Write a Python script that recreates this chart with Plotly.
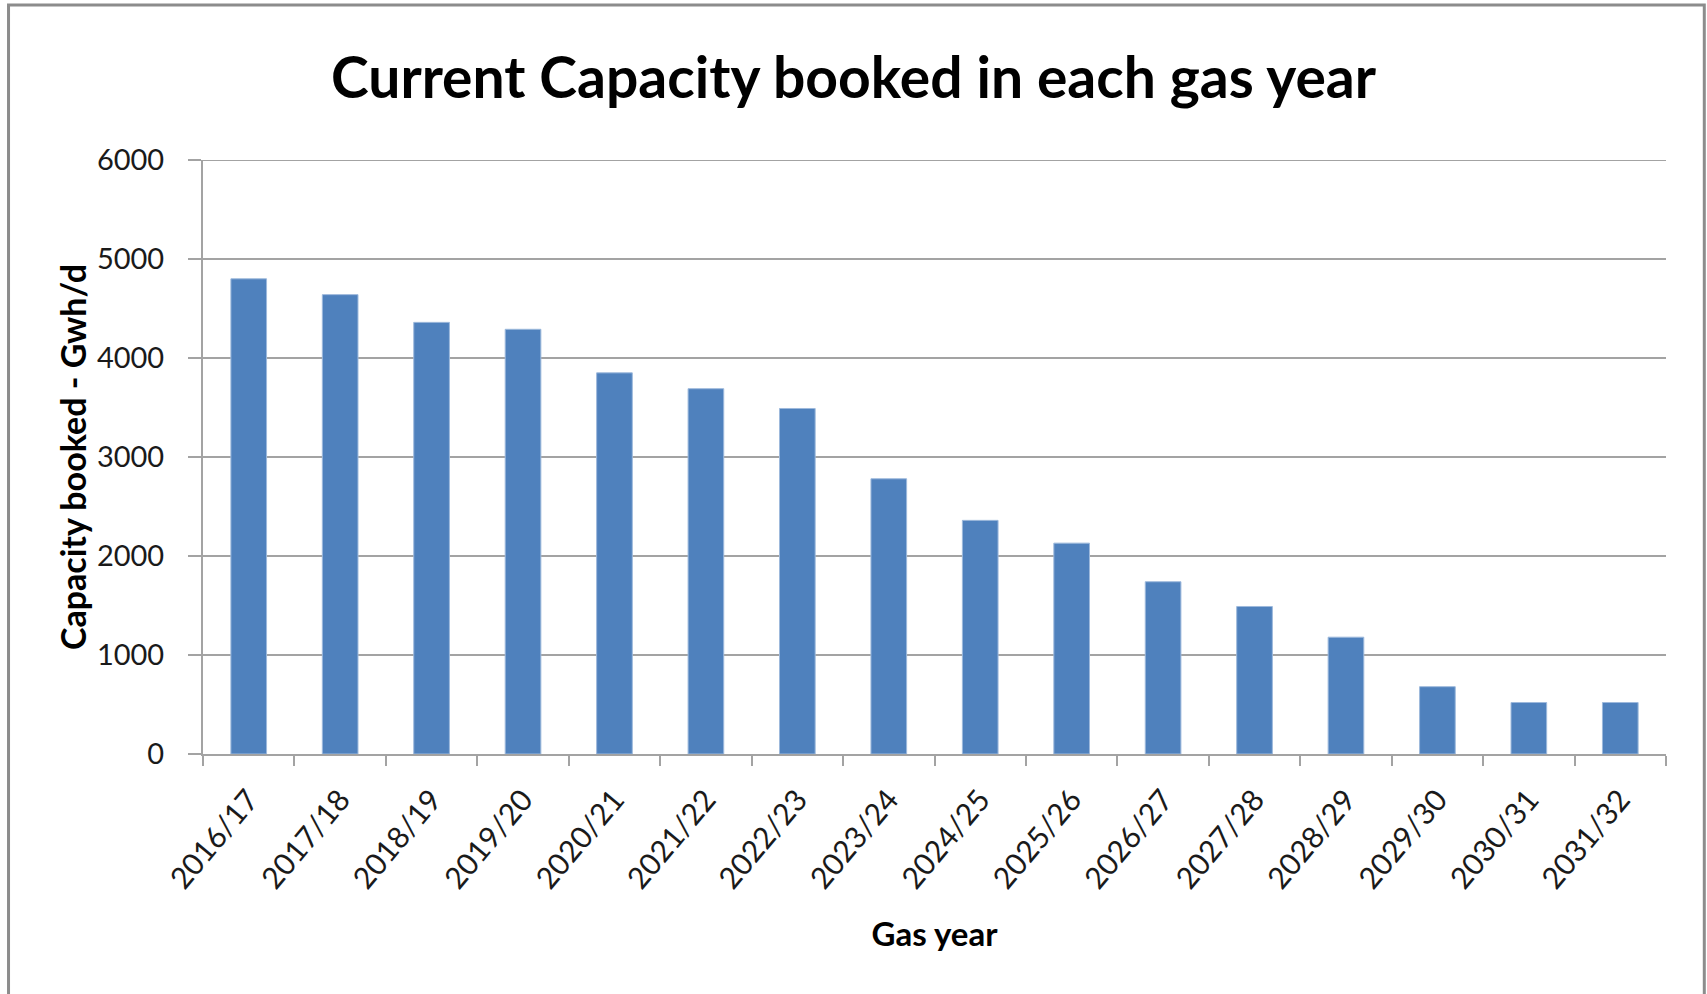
import plotly.graph_objects as go

gas_years = ["2016/17", "2017/18", "2018/19", "2019/20", "2020/21", "2021/22",
             "2022/23", "2023/24", "2024/25", "2025/26", "2026/27", "2027/28",
             "2028/29", "2029/30", "2030/31", "2031/32"]
capacity_booked = [4800, 4640, 4360, 4290, 3850, 3690, 3490, 2780, 2360, 2130,
                   1740, 1490, 1180, 680, 520, 520]
y_ticks = [0, 1000, 2000, 3000, 4000, 5000, 6000]
y_max = 6000

title_text = "Current Capacity booked in each gas year"
x_title = "Gas year"
y_title = "Capacity booked - Gwh/d"

FONT = "Lato"
GRID = "#A3A3A3"

W, H = 1707, 994
L, R, T, B = 202.5, 41.3, 160, 240

fig = go.Figure()
fig.add_trace(go.Bar(
    x=gas_years,
    y=capacity_booked,
    marker=dict(color="#4F81BD", line=dict(color="#9DB9DC", width=1)),
    hoverinfo="x+y",
))

fig.update_layout(
    width=W,
    height=H,
    paper_bgcolor="white",
    plot_bgcolor="white",
    margin=dict(l=L, r=R, t=T, b=B, autoexpand=False),
    bargap=0.61,
    showlegend=False,
    font=dict(family=FONT, color="#1a1a1a"),
    title=dict(
        text=title_text,
        font=dict(family=FONT, size=57, color="black", weight="bold"),
        x=0.5, xanchor="center",
        y=1 - 78 / H, yanchor="middle", yref="container",
    ),
    xaxis=dict(
        type="category",
        showgrid=False,
        showline=True, linecolor=GRID, linewidth=2,
        ticks="outside", tickson="boundaries", ticklen=10, tickwidth=2, tickcolor=GRID,
        tickangle=-50,
        tickfont=dict(family=FONT, size=30, color="#1a1a1a"),
        ticklabelstandoff=14,
        title=dict(text=x_title, font=dict(family=FONT, size=33, color="black", weight="bold"),
                   standoff=29),
        zeroline=False,
    ),
    yaxis=dict(
        range=[0, y_max],
        tickvals=y_ticks,
        showgrid=True, gridcolor=GRID, gridwidth=2,
        showline=True, linecolor=GRID, linewidth=2,
        ticks="outside", ticklen=13, tickwidth=2, tickcolor=GRID,
        tickfont=dict(family=FONT, size=29, color="#1a1a1a"),
        ticklabelstandoff=18,
        title=dict(text=y_title, font=dict(family=FONT, size=34, color="black", weight="bold"),
                   standoff=0),
        zeroline=False,
    ),
)

# top gridline at the range edge (plotly omits it at the edge)
fig.add_shape(
    type="line", xref="paper", yref="y",
    x0=0, x1=1, y0=y_max, y1=y_max,
    line=dict(color=GRID, width=2),
    layer="above",
)

# outer chart frame (gray border)
pw = W - L - R
ph = H - T - B
fig.add_shape(
    type="rect", xref="paper", yref="paper",
    x0=(8 - L) / pw, x1=(1704 - L) / pw,
    y0=(H - B - 1010) / ph, y1=(H - B - 5) / ph,
    line=dict(color="#8C8C8C", width=3),
    fillcolor="rgba(0,0,0,0)",
    layer="below",
)

fig.write_html("out.html", config={"displayModeBar": False},
               post_script="document.body.style.margin='0';")
